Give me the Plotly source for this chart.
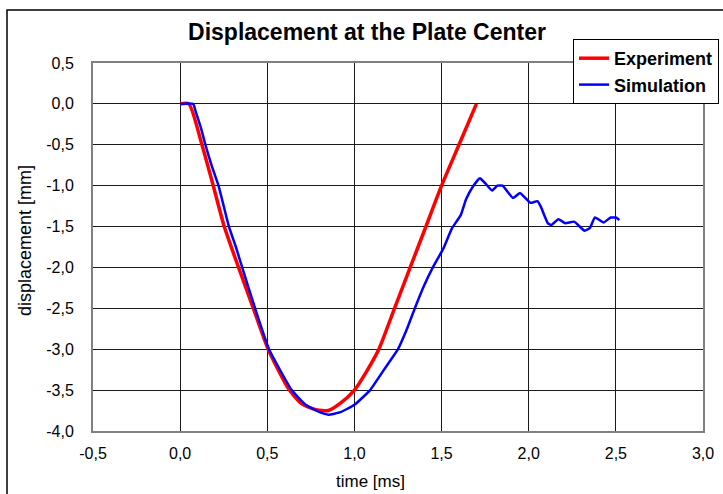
import plotly.graph_objects as go

exp_t = [0.00, 0.05, 0.125, 0.19, 0.253, 0.335, 0.42, 0.505, 0.627, 0.70, 0.78, 0.85,
         0.92, 1.00, 1.07, 1.14, 1.23, 1.32, 1.41, 1.50, 1.60, 1.70]
exp_v = [0.0, 0.0, -0.5, -1.0, -1.5, -2.0, -2.5, -3.0, -3.5, -3.67, -3.74, -3.75,
         -3.66, -3.5, -3.27, -3.0, -2.5, -2.0, -1.5, -1.0, -0.5, 0.0]

sim_t = [0.0, 0.075, 0.09, 0.12, 0.145, 0.18, 0.22, 0.25, 0.28, 0.32, 0.356, 0.43, 0.51,
         0.64, 0.72, 0.80, 0.85, 0.92, 1.00, 1.09, 1.17, 1.25, 1.30, 1.35, 1.40, 1.45,
         1.51, 1.56, 1.61, 1.64, 1.68, 1.72, 1.75, 1.79, 1.82, 1.85, 1.91, 1.95, 2.01,
         2.05, 2.07, 2.11, 2.13, 2.17, 2.21, 2.26, 2.32, 2.35, 2.38, 2.43, 2.47, 2.50, 2.52]
sim_v = [0.0, 0.0, -0.1, -0.3, -0.5, -0.75, -1.0, -1.25, -1.5, -1.75, -2.0, -2.5, -3.0,
         -3.5, -3.68, -3.77, -3.8, -3.77, -3.68, -3.5, -3.25, -3.0, -2.76, -2.48, -2.22, -2.0,
         -1.77, -1.52, -1.36, -1.17, -1.01, -0.91, -0.97, -1.06, -1.0, -1.0, -1.15, -1.09, -1.21,
         -1.19, -1.26, -1.46, -1.48, -1.41, -1.46, -1.44, -1.55, -1.52, -1.39, -1.45, -1.39, -1.39, -1.42]

x_ticks = [-0.5, 0.0, 0.5, 1.0, 1.5, 2.0, 2.5, 3.0]
x_ticklabels = ["-0,5", "0,0", "0,5", "1,0", "1,5", "2,0", "2,5", "3,0"]
y_ticks = [0.5, 0.0, -0.5, -1.0, -1.5, -2.0, -2.5, -3.0, -3.5, -4.0]
y_ticklabels = ["0,5", "0,0", "-0,5", "-1,0", "-1,5", "-2,0", "-2,5", "-3,0", "-3,5", "-4,0"]

FONT = "Arial, Liberation Sans, sans-serif"

fig = go.Figure()
fig.add_trace(go.Scatter(x=exp_t, y=exp_v, mode="lines", name="<b>Experiment</b>",
                         line=dict(color="#ff0000", width=3.5, shape="spline", smoothing=0.6),
                         legendgroup="a"))
fig.add_trace(go.Scatter(x=sim_t, y=sim_v, mode="lines", name="<b>Simulation</b>",
                         line=dict(color="#0000ff", width=2.5, shape="spline", smoothing=0.4),
                         legendgroup="b"))

L, R, T, B = 93, 20, 63, 63
W, H = 723, 494
pw, ph = W - L - R, H - T - B

def px(x):
    return (x - L) / pw

def py(y):
    return 1 - (y - T) / ph

fig.update_layout(
    width=W, height=H,
    margin=dict(l=L, r=R, t=T, b=B, autoexpand=False),
    paper_bgcolor="white", plot_bgcolor="white",
    font=dict(family=FONT, size=16, color="black"),
    title=dict(text="<b>Displacement at the Plate Center</b>", font=dict(size=23, family=FONT),
               x=367 / W, xref="container", xanchor="center",
               y=1 - 32 / H, yref="container", yanchor="middle"),
    showlegend=True,
    legend=dict(x=px(573), y=py(39), xanchor="left", yanchor="top",
                bgcolor="white", bordercolor="black", borderwidth=1,
                font=dict(size=18, family=FONT, color="black"),
                tracegroupgap=0, itemwidth=30),
    xaxis=dict(range=[-0.5, 3.0], tickvals=x_ticks, ticktext=x_ticklabels,
               showgrid=True, gridcolor="#1a1a1a", gridwidth=1,
               showline=True, linecolor="#808080", linewidth=2, mirror=True,
               zeroline=False, ticks="", ticklabelstandoff=7),
    yaxis=dict(range=[-4.0, 0.5], tickvals=y_ticks, ticktext=y_ticklabels,
               showgrid=True, gridcolor="#1a1a1a", gridwidth=1,
               showline=True, linecolor="#808080", linewidth=2, mirror=True,
               zeroline=False, ticks="", ticklabelstandoff=14),
    annotations=[
        dict(text="time [ms]", xref="paper", yref="paper", x=px(370), y=py(481),
             xanchor="center", yanchor="middle", showarrow=False, font=dict(size=17)),
        dict(text="displacement [mm]", xref="paper", yref="paper", x=px(25), y=py(241),
             xanchor="center", yanchor="middle", showarrow=False, textangle=-90,
             font=dict(size=18)),
    ],
    shapes=[dict(type="rect", xref="paper", yref="paper",
                 x0=px(7), x1=px(730), y0=py(10), y1=py(500),
                 line=dict(color="black", width=1.5), fillcolor="rgba(0,0,0,0)", layer="below")],
)

fig.write_html("out.html")
